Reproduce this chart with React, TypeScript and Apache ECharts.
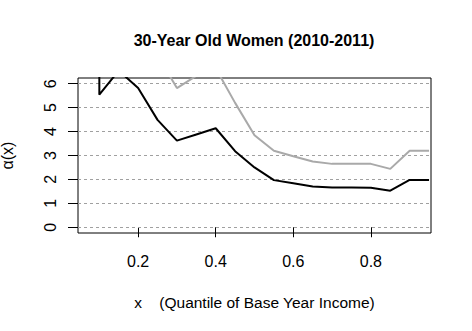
import React, { useEffect, useRef } from "react";
import * as echarts from "echarts";

const quantiles = [0.1, 0.1, 0.15, 0.2, 0.25, 0.3, 0.35, 0.4, 0.45, 0.5, 0.55, 0.6, 0.65, 0.7, 0.75, 0.8, 0.85, 0.9, 0.95];
const alpha2010 = [7.2, 5.54, 6.55, 5.82, 4.49, 3.62, 3.88, 4.14, 3.18, 2.5, 1.97, 1.84, 1.7, 1.66, 1.66, 1.65, 1.53, 1.98, 1.98];
const alpha2011 = [8.5, 8.5, 9.0, 8.0, 7.2, 5.82, 6.33, 6.65, 5.2, 3.85, 3.2, 2.97, 2.75, 2.65, 2.65, 2.65, 2.44, 3.2, 3.2];
const xTicks = [0.2, 0.4, 0.6, 0.8];
const yTicks = [0, 1, 2, 3, 4, 5, 6];
const titleText = "30-Year Old Women (2010-2011)";
const xTitle = "x    (Quantile of Base Year Income)";
const yTitle = "α(x)";

const FONT = "'Liberation Sans', Arial, sans-serif";

export default function App() {
  const ref = useRef<HTMLDivElement>(null);
  useEffect(() => {
    if (!ref.current) return;
    const chart = echarts.init(ref.current, null, { renderer: "svg" });
    const pair = (ys: number[]) => quantiles.map((x, i) => [x, ys[i]]);
    chart.setOption({
      animation: false,
      backgroundColor: "#ffffff",
      textStyle: { fontFamily: FONT },
      title: {
        text: titleText,
        left: 254,
        top: 32,
        padding: 0,
        textAlign: "center",
        textStyle: { fontFamily: FONT, fontSize: 16, fontWeight: "bold", color: "#000" },
      },
      grid: {
        left: 78,
        right: 41,
        top: 78,
        bottom: 98,
        containLabel: false,
        outerBoundsMode: "none",
        show: true,
        borderColor: "#000",
        borderWidth: 1,
        backgroundColor: "transparent",
      },
      xAxis: {
        type: "value",
        min: 0.045,
        max: 0.955,
        name: xTitle,
        nameLocation: "middle",
        nameGap: 61,
        nameTextStyle: { fontFamily: FONT, fontSize: 15.5, color: "#000" },
        axisLine: { show: false },
        splitLine: { show: false },
        axisTick: { show: true, inside: false, length: 10, customValues: xTicks, lineStyle: { color: "#000" } },
        axisLabel: {
          customValues: xTicks,
          margin: 20,
          fontFamily: FONT,
          fontSize: 16,
          color: "#000",
          formatter: (v: number) => v.toFixed(1),
        },
      },
      yAxis: {
        type: "value",
        min: -0.24,
        max: 6.24,
        name: yTitle,
        nameLocation: "middle",
        nameRotate: 90,
        nameGap: 63,
        nameTextStyle: { fontFamily: FONT, fontSize: 16, color: "#000" },
        axisLine: { show: false },
        splitLine: { show: false },
        axisTick: { show: true, inside: false, length: 10, customValues: yTicks, lineStyle: { color: "#000" } },
        axisLabel: {
          customValues: yTicks,
          rotate: 90,
          margin: 20,
          fontFamily: FONT,
          fontSize: 16,
          color: "#000",
        },
      },
      series: [
        {
          type: "line",
          data: pair(alpha2011),
          showSymbol: false,
          lineStyle: { color: "#a9a9a9", width: 2 },
          clip: true,
          z: 3,
          markLine: {
            silent: true,
            symbol: "none",
            label: { show: false },
            lineStyle: { color: "#a0a0a0", width: 1, type: [3, 3] },
            data: yTicks.map((v) => ({ yAxis: v })),
            z: 1,
          },
        },
        {
          type: "line",
          data: pair(alpha2010),
          showSymbol: false,
          lineStyle: { color: "#000000", width: 2 },
          clip: true,
          z: 4,
        },
      ],
    });
    return () => chart.dispose();
  }, []);
  return (
    <div
      ref={ref}
      style={{ position: "fixed", left: 0, top: 0, width: 472, height: 331, background: "#fff" }}
    />
  );
}
